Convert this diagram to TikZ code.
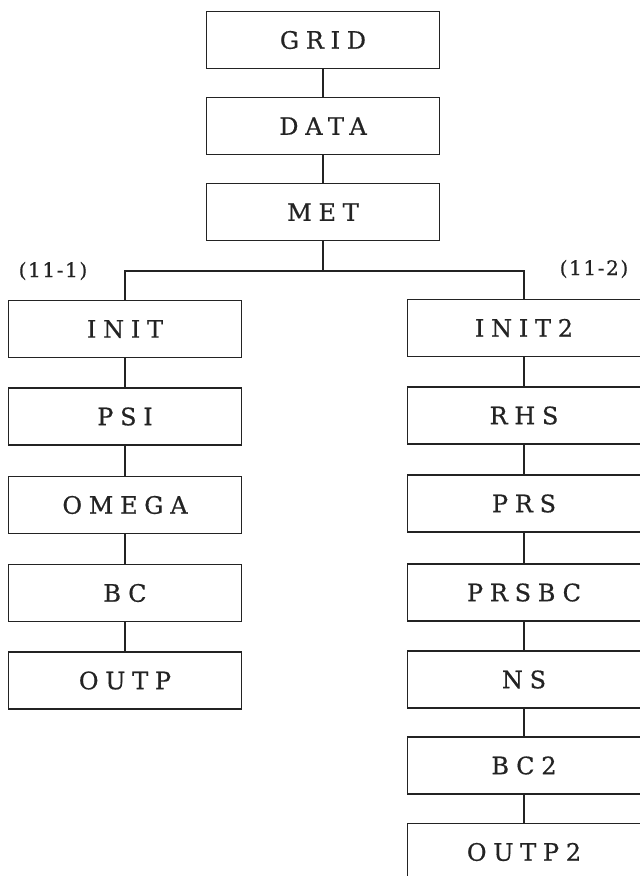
\documentclass[tikz,border=0pt]{standalone}
\usepackage{fontspec}
\setmainfont{DejaVu Serif}
\newfontfamily\boxfont[LetterSpace=28,FakeBold=0.6]{DejaVu Serif}
\newfontfamily\labfont[LetterSpace=8,FakeBold=0.6]{DejaVu Serif}
\definecolor{ink}{RGB}{35,35,35}
\begin{document}
\begin{tikzpicture}[x=1pt,y=-1pt,
  blk/.style={draw=ink, line width=1.3pt, minimum width=233pt, minimum height=57pt,
    inner sep=0pt, text=ink, font=\boxfont\fontsize{24}{24}\selectfont},
  lab/.style={text=ink, inner sep=0pt, font=\labfont\fontsize{20}{20}\selectfont},
  link/.style={draw=ink, line width=1.3pt}]
\path[use as bounding box, fill=white] (0,0) rectangle (640,876);
\clip (0,0) rectangle (640,876);
\newcommand{\tx}[1]{#1\hspace{-6.7pt}}
\node[blk] (grid) at (323,40) {\tx{GRID}};
\node[blk] (data) at (323,126) {\tx{DATA}};
\node[blk] (met) at (323,212) {\tx{MET}};
% left column
\node[blk] (init) at (125,329) {\tx{INIT}};
\node[blk] (psi) at (125,416.5) {\tx{PSI}};
\node[blk] (omega) at (125,505) {\tx{OMEGA}};
\node[blk] (bc) at (125,593) {\tx{BC}};
\node[blk] (outp) at (125,680.5) {\tx{OUTP}};
% right column
\node[blk] (init2) at (524,328) {\tx{INIT2}};
\node[blk] (rhs) at (524,415.5) {\tx{RHS}};
\node[blk] (prs) at (524,503.5) {\tx{PRS}};
\node[blk] (prsbc) at (524,592.5) {\tx{PRSBC}};
\node[blk] (ns) at (524,679.5) {\tx{NS}};
\node[blk] (bctwo) at (524,765.5) {\tx{BC2}};
\node[blk] (outptwo) at (524,852) {\tx{OUTP2}};
% labels
\node[lab] (l1) at (53,271) {(11-1)\hspace{-1.6pt}};
\node[lab] (l2) at (594,269) {(11-2)\hspace{-1.6pt}};
% connectors
\coordinate (bar) at (323,271);
\draw[link] (grid) -- (data);
\draw[link] (data) -- (met);
\draw[link] (met.south) -- (bar);
\draw[link] (init.north) |- (bar) -| (init2.north);
\draw[link] (init) -- (psi);
\draw[link] (psi) -- (omega);
\draw[link] (omega) -- (bc);
\draw[link] (bc) -- (outp);
\draw[link] (init2) -- (rhs);
\draw[link] (rhs) -- (prs);
\draw[link] (prs) -- (prsbc);
\draw[link] (prsbc) -- (ns);
\draw[link] (ns) -- (bctwo);
\draw[link] (bctwo) -- (outptwo);
\end{tikzpicture}
\end{document}
